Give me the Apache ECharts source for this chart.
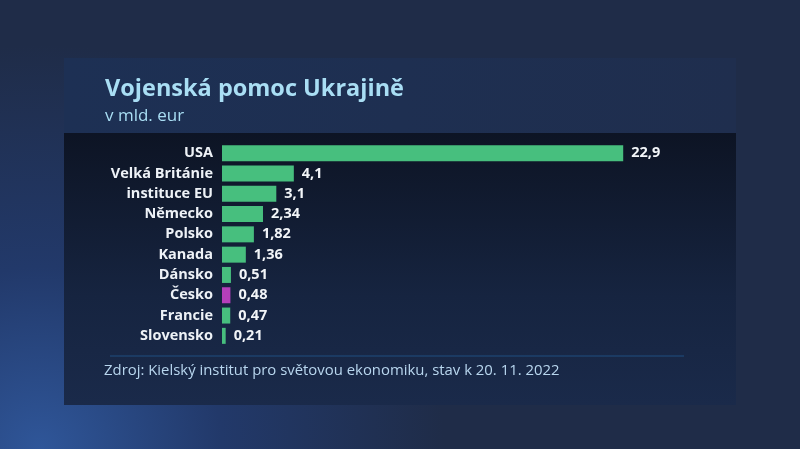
<!DOCTYPE html>
<html><head><meta charset="utf-8">
<script src="https://cdn.jsdelivr.net/npm/echarts@6/dist/echarts.min.js"></script>
<style>html,body{margin:0;padding:0;background:#1d2d4c}#c{width:800px;height:449px}</style>
</head><body><div id="c"></div>
<script>
const categories = ['USA','Velká Británie','instituce EU','Německo','Polsko','Kanada','Dánsko','Česko','Francie','Slovensko'];
const values = [22.9, 4.1, 3.1, 2.34, 1.82, 1.36, 0.51, 0.48, 0.47, 0.21];
const highlight = 'Česko';
const titleText = 'Vojenská pomoc Ukrajině';
const subtitleText = 'v mld. eur';
const sourceText = 'Zdroj: Kielský institut pro světovou ekonomiku, stav k 20. 11. 2022';

const chart = echarts.init(document.getElementById('c'));
const FONT = 'Open Sans';
chart.setOption({
  animation: false,
  backgroundColor: {
    type: 'radial', x: 0.05, y: 1.0, r: 0.9,
    colorStops: [{offset: 0, color: '#2f5699'}, {offset: 0.45, color: '#22396a'}, {offset: 1, color: '#1f2c48'}]
  },
  graphic: [
    {type: 'rect', shape: {x: 64, y: 58, width: 672, height: 75}, style: {fill: {type: 'linear', x: 0, y: 0, x2: 1, y2: 0, colorStops: [{offset: 0, color: '#1d3054'}, {offset: 1, color: '#1f2e4e'}]}}, z: -10},
    {type: 'rect', shape: {x: 64, y: 133, width: 672, height: 272}, style: {fill: {type: 'linear', x: 0, y: 0, x2: 0, y2: 1, colorStops: [{offset: 0, color: '#0d1424'}, {offset: 0.6, color: '#162440'}, {offset: 1, color: '#1a2a4a'}]}}, z: -10},
    {type: 'line', shape: {x1: 110, y1: 356, x2: 684, y2: 356}, style: {stroke: '#1f4f80', lineWidth: 1}, z: -5},
    {type: 'text', left: 104, top: 363, style: {text: sourceText, fill: '#b8d6ee', font: '14.9px "Open Sans"'}}
  ],
  title: {
    text: titleText, subtext: subtitleText, left: 100, top: 72, itemGap: 7,
    textStyle: {color: '#a9def4', fontFamily: FONT, fontSize: 23.5, fontWeight: 'bold'},
    subtextStyle: {color: '#a9def4', fontFamily: FONT, fontSize: 17, fontWeight: 500}
  },
  grid: {left: 222, right: 140, top: 143, bottom: 103, containLabel: false},
  xAxis: {type: 'value', min: 0, max: 25, show: false},
  yAxis: {
    type: 'category', data: categories, inverse: true,
    axisLine: {show: false}, axisTick: {show: false}, splitLine: {show: false},
    axisLabel: {color: '#eef2f7', fontFamily: FONT, fontSize: 14.5, fontWeight: 'bold', margin: 9}
  },
  series: [{
    type: 'bar', barWidth: 16,
    data: values.map((v, i) => ({value: v, itemStyle: {color: categories[i] === highlight ? '#b43fba' : '#47bf7e'}})),
    label: {show: true, position: 'right', distance: 8, color: '#f2f5f8', fontFamily: FONT, fontSize: 14.5, fontWeight: 'bold',
      formatter: p => String(p.value).replace('.', ',')}
  }]
});
</script></body></html>
